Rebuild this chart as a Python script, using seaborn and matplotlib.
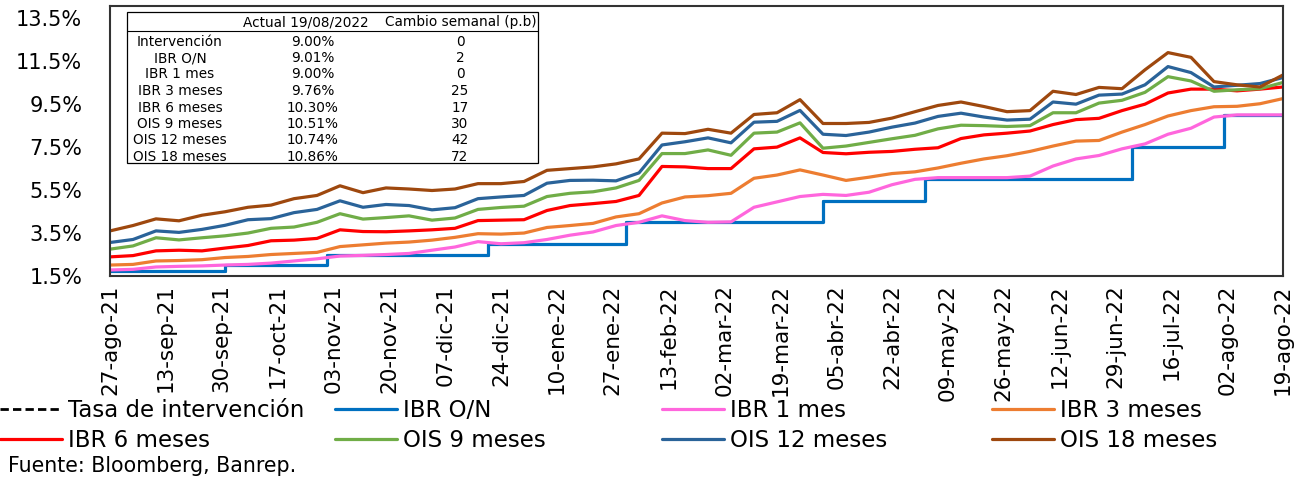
import pandas as pd
import seaborn as sns
import matplotlib.pyplot as plt
from matplotlib.patches import Rectangle
from matplotlib.lines import Line2D

# weekly observations (Fridays) from 27-ago-21 to 19-ago-22
week_dates = pd.date_range('2021-08-27', '2022-08-19', freq='7D')

# policy rate and overnight IBR change only on decision dates
step_dates = pd.to_datetime(['2021-08-27', '2021-10-01', '2021-11-01', '2021-12-20', '2022-01-31',
                             '2022-04-01', '2022-05-02', '2022-07-04', '2022-08-01', '2022-08-19'])
tasa_intervencion = [1.75, 2.00, 2.50, 3.00, 4.00, 5.00, 6.00, 7.50, 9.00, 9.00]
ibr_on = [1.75, 2.00, 2.49, 3.00, 4.00, 5.00, 6.01, 7.51, 9.01, 9.01]

ibr_1m = [1.78, 1.81, 1.92, 1.95, 1.97, 2.01, 2.04, 2.10, 2.20, 2.30, 2.43, 2.46, 2.50,
          2.55, 2.70, 2.85, 3.10, 3.00, 3.05, 3.20, 3.40, 3.55, 3.85, 4.00, 4.30, 4.08,
          4.00, 4.02, 4.70, 4.95, 5.20, 5.30, 5.25, 5.40, 5.75, 6.00, 6.08, 6.08, 6.08,
          6.08, 6.15, 6.62, 6.95, 7.11, 7.42, 7.65, 8.10, 8.38, 8.90, 9.00, 9.00, 9.00]
ibr_3m = [2.01, 2.04, 2.20, 2.22, 2.26, 2.36, 2.41, 2.50, 2.55, 2.60, 2.87, 2.95, 3.03,
          3.08, 3.17, 3.30, 3.47, 3.45, 3.50, 3.76, 3.85, 3.95, 4.25, 4.40, 4.90, 5.18,
          5.24, 5.35, 6.05, 6.20, 6.44, 6.20, 5.95, 6.10, 6.27, 6.35, 6.53, 6.75, 6.95,
          7.10, 7.30, 7.55, 7.78, 7.81, 8.20, 8.55, 8.95, 9.20, 9.38, 9.40, 9.52, 9.76]
ibr_6m = [2.39, 2.45, 2.67, 2.70, 2.67, 2.80, 2.92, 3.14, 3.17, 3.25, 3.65, 3.57, 3.56,
          3.60, 3.65, 3.72, 4.08, 4.10, 4.12, 4.55, 4.78, 4.87, 4.97, 5.25, 6.60, 6.58,
          6.50, 6.50, 7.42, 7.50, 7.93, 7.25, 7.19, 7.26, 7.30, 7.40, 7.47, 7.90, 8.07,
          8.15, 8.25, 8.55, 8.78, 8.84, 9.20, 9.50, 10.02, 10.20, 10.20, 10.12, 10.20, 10.30]
ois_9m = [2.75, 2.90, 3.28, 3.18, 3.28, 3.37, 3.50, 3.72, 3.78, 4.00, 4.40, 4.15, 4.22,
          4.30, 4.10, 4.20, 4.60, 4.69, 4.75, 5.20, 5.35, 5.42, 5.60, 5.95, 7.20, 7.20,
          7.37, 7.12, 8.15, 8.20, 8.63, 7.45, 7.55, 7.72, 7.89, 8.05, 8.35, 8.52, 8.50,
          8.46, 8.50, 9.10, 9.10, 9.55, 9.68, 10.05, 10.78, 10.58, 10.10, 10.17, 10.22, 10.51]
ois_12m = [3.06, 3.20, 3.60, 3.53, 3.67, 3.86, 4.12, 4.17, 4.45, 4.60, 5.00, 4.70, 4.83,
           4.78, 4.58, 4.68, 5.10, 5.18, 5.25, 5.82, 5.95, 5.96, 5.93, 6.30, 7.60, 7.75,
           7.93, 7.70, 8.66, 8.70, 9.21, 8.10, 8.04, 8.20, 8.43, 8.62, 8.93, 9.08, 8.90,
           8.76, 8.80, 9.60, 9.50, 9.92, 9.97, 10.40, 11.25, 10.97, 10.30, 10.38, 10.46, 10.74]
ois_18m = [3.60, 3.85, 4.16, 4.07, 4.33, 4.49, 4.70, 4.80, 5.10, 5.25, 5.70, 5.38, 5.60,
           5.55, 5.48, 5.55, 5.80, 5.80, 5.90, 6.42, 6.50, 6.58, 6.72, 6.95, 8.15, 8.13,
           8.33, 8.15, 9.02, 9.10, 9.71, 8.60, 8.60, 8.65, 8.85, 9.15, 9.44, 9.60, 9.39,
           9.15, 9.20, 10.10, 9.95, 10.28, 10.22, 11.10, 11.90, 11.68, 10.55, 10.40, 10.30, 10.86]

tick_labels = ['27-ago-21', '13-sep-21', '30-sep-21', '17-oct-21', '03-nov-21', '20-nov-21',
               '07-dic-21', '24-dic-21', '10-ene-22', '27-ene-22', '13-feb-22', '02-mar-22',
               '19-mar-22', '05-abr-22', '22-abr-22', '09-may-22', '26-may-22', '12-jun-22',
               '29-jun-22', '16-jul-22', '02-ago-22', '19-ago-22']

table_labels = ['Intervención', 'IBR O/N', 'IBR 1 mes', 'IBR 3 meses', 'IBR 6 meses',
                'OIS 9 meses', 'OIS 12 meses', 'OIS 18 meses']
table_actual = ['9.00%', '9.01%', '9.00%', '9.76%', '10.30%', '10.51%', '10.74%', '10.86%']
table_cambio = ['0', '2', '0', '25', '17', '30', '42', '72']

sns.set_style('white')
plt.rcParams['font.family'] = ['DejaVu Sans']
plt.rcParams['text.color'] = 'black'
plt.rcParams['xtick.color'] = 'black'
plt.rcParams['ytick.color'] = 'black'

W, H = 1309, 480
fig = plt.figure(figsize=(W / 100, H / 100), dpi=100)
ax = fig.add_axes([110 / W, 1 - 276 / H, 1173 / W, 270 / H])


def fx(x):
    return x / W


def fy(y):
    return 1 - y / H


lw = 2.3
sns.lineplot(x=step_dates, y=tasa_intervencion, ax=ax, color='black', lw=2,
             linestyle=(0, (3, 1.5)), drawstyle='steps-post', legend=False,
             label='Tasa de intervención')
sns.lineplot(x=step_dates, y=ibr_on, ax=ax, color='#0070C0', lw=lw,
             drawstyle='steps-post', legend=False, label='IBR O/N')
series = [
    (ibr_1m, '#FF66DD', 'IBR 1 mes'),
    (ibr_3m, '#ED7D31', 'IBR 3 meses'),
    (ibr_6m, '#FF0000', 'IBR 6 meses'),
    (ois_9m, '#70AD47', 'OIS 9 meses'),
    (ois_12m, '#2A6399', 'OIS 12 meses'),
    (ois_18m, '#9E480E', 'OIS 18 meses'),
]
for vals, col, lab in series:
    sns.lineplot(x=week_dates, y=vals, ax=ax, color=col, lw=lw, legend=False, label=lab)

ax.set_xlim(pd.Timestamp('2021-08-27'), pd.Timestamp('2022-08-19'))
ax.set_ylim(1.5, 14.07)
ax.set_yticks([1.5, 3.5, 5.5, 7.5, 9.5, 11.5, 13.5])
ax.set_yticklabels([f'{v:.1f}%' for v in ax.get_yticks()], fontsize=15)
ax.set_xticks(pd.date_range('2021-08-27', periods=len(tick_labels), freq='17D'))
ax.set_xticklabels(tick_labels, rotation=90, fontsize=15.5)
ax.tick_params(axis='y', length=0, pad=20)
ax.tick_params(axis='x', length=0, pad=6)
ax.set_xlabel('')
ax.set_ylabel('')
for s in ax.spines.values():
    s.set_color('#333333')
    s.set_linewidth(1.5)

# summary table in the upper-left corner
fig.add_artist(Rectangle((fx(127), fy(163)), 411 / W, 151 / H, transform=fig.transFigure,
                         facecolor='white', edgecolor='black', lw=0.9, zorder=5))
fig.add_artist(Line2D([fx(127), fx(538)], [fy(31), fy(31)], transform=fig.transFigure,
                      color='black', lw=0.8, zorder=6))
tkw = dict(fontsize=9.8, ha='center', va='center', zorder=7)
fig.text(fx(306), fy(22), 'Actual 19/08/2022', **tkw)
fig.text(fx(461), fy(22), 'Cambio semanal (p.b)', **tkw)
for i, (lab, act, cam) in enumerate(zip(table_labels, table_actual, table_cambio)):
    yy = fy(41.5 + 16.5 * i)
    fig.text(fx(180), yy, lab, **tkw)
    fig.text(fx(313), yy, act, **tkw)
    fig.text(fx(460), yy, cam, **tkw)

# legend: four columns placed like the original
handles, labels = ax.get_legend_handles_labels()
cols = [(0, [0, 4]), (335, [1, 5]), (662, [2, 6]), (992, [3, 7])]
for x0, idx in cols:
    leg = fig.legend([handles[i] for i in idx], [labels[i] for i in idx],
                     loc='upper left', bbox_to_anchor=(fx(x0), fy(399)),
                     frameon=False, fontsize=16.5, handlelength=2.7, handletextpad=0.25,
                     labelspacing=0.3, borderpad=0, borderaxespad=0)

fig.text(fx(8), fy(466), 'Fuente: Bloomberg, Banrep.', fontsize=14.8, va='center')

fig.savefig('out.png', dpi=100)
